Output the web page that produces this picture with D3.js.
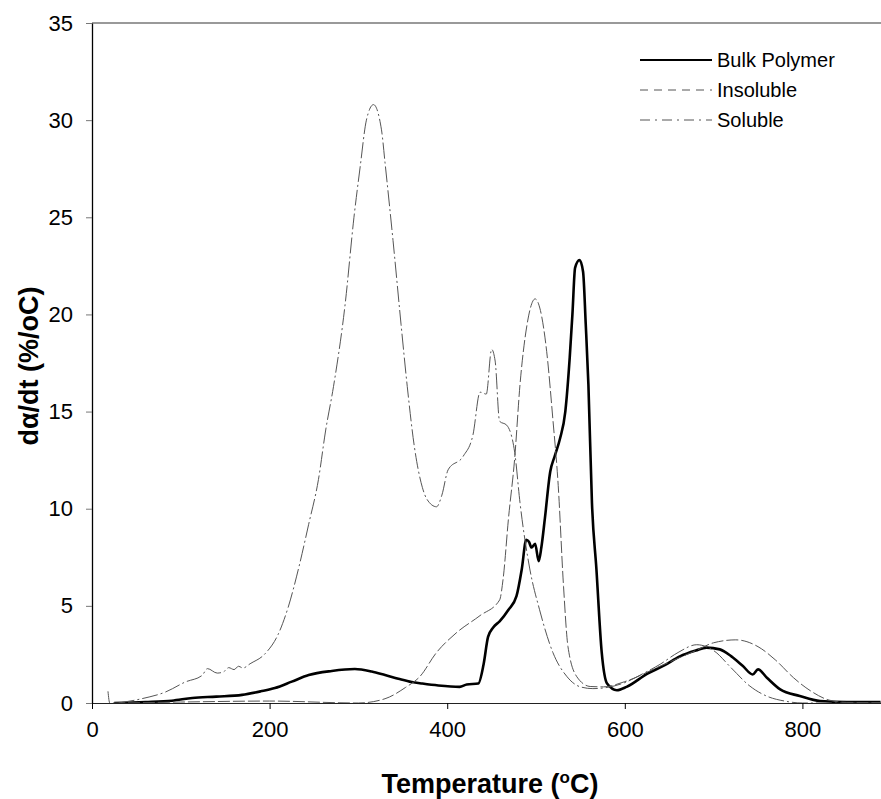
<!DOCTYPE html>
<html>
<head>
<meta charset="utf-8">
<script src="https://cdn.jsdelivr.net/npm/d3@7"></script>
<style>
  body { margin: 0; background: #fff; }
  svg text { font-family: "Liberation Sans", Arial, sans-serif; fill: #000; }
</style>
</head>
<body>
<div id="chart"></div>
<script>
// temperature (C), dα/dt (%/C)
const bulkPolymer = [[25,0],[60,0.05],[90,0.12],[113,0.26],[140,0.33],[169,0.42],[190,0.6],[206,0.77],[225,1.1],[244,1.44],[270,1.65],[296,1.75],[315,1.62],[330,1.44],[345,1.25],[360,1.08],[372,1.0],[390,0.9],[414,0.83],[422,0.95],[435,1.0],[441,2.0],[446,3.4],[452,3.9],[459,4.2],[469,4.8],[478,5.5],[484,6.9],[489,8.4],[492,8.3],[495,8.0],[499,8.2],[503,7.3],[506,8.0],[510,9.5],[516,11.9],[521,12.7],[527,13.6],[533,15],[538,17.8],[541,20],[544,22.4],[549,22.8],[553,22.2],[556,19.5],[559,16.4],[563,10.3],[568,6.9],[574,2.6],[580,1.0],[591,0.66],[602,0.83],[625,1.5],[645,1.95],[662,2.4],[680,2.7],[692,2.85],[707,2.76],[720,2.4],[733,1.9],[744,1.47],[750,1.73],[760,1.3],[775,0.7],[797,0.36],[820,0.1],[850,0.05],[888,0.05]];

const insoluble = [[18,0.6],[20,0],[100,0.05],[200,0.1],[300,0],[330,0.22],[353,0.8],[369,1.35],[388,2.6],[410,3.6],[437,4.5],[459,5.3],[463,6.4],[469,9.5],[476,12.6],[482,16.4],[490,19.5],[499,20.8],[505,20.2],[512,18.1],[519,14.6],[525,11.2],[531,6.0],[536,2.9],[546,1.35],[561,0.85],[576,0.83],[600,1.1],[640,1.9],[680,2.7],[700,3.1],[725,3.25],[750,2.9],[770,2.2],[790,1.3],[810,0.6],[830,0.15],[850,0.03],[888,0.02]];

const soluble = [[30,0],[56,0.22],[83,0.57],[105,1.08],[124,1.42],[130,1.77],[141,1.54],[148,1.6],[154,1.82],[160,1.72],[165,1.89],[170,1.8],[178,2.02],[195,2.54],[210,3.57],[221,4.94],[233,7.0],[244,9.2],[255,11.5],[263,14.0],[272,16.3],[285,20.5],[295,25],[302,27.6],[309,30.0],[317,30.8],[326,29.5],[330,27.8],[339,23.8],[348,19.5],[355,16.3],[363,13.2],[372,11.1],[377,10.5],[388,10.1],[394,10.7],[401,12.0],[418,12.7],[429,13.8],[437,16.0],[444,15.9],[450,18.2],[454,17.6],[459,14.5],[467,14.3],[476,12.9],[482,10.3],[493,6.9],[504,4.8],[519,2.6],[535,1.35],[550,0.83],[564,0.74],[580,0.8],[600,1.05],[620,1.5],[640,2.0],[660,2.6],[681,3.0],[700,2.7],[720,1.8],[740,0.9],[760,0.35],[780,0.1],[800,0],[888,0]];

const xTicks = [0, 200, 400, 600, 800];
const yTicks = [0, 5, 10, 15, 20, 25, 30, 35];
const seriesNames = ["Bulk Polymer", "Insoluble", "Soluble"];

const width = 881, height = 799,
  margin = ({ top: 23, right: 0, bottom: 96, left: 92 });

const svg = d3.select("#chart")
  .append("svg")
  .attr("width", width)
  .attr("height", height);

let x = d3.scaleLinear([0, 888.5], [margin.left, width - margin.right]);
let y = d3.scaleLinear([0, 35], [height - margin.bottom, margin.top]);

svg.append("clipPath").attr("id", "plot")
  .append("rect")
  .attr("x", margin.left).attr("y", margin.top)
  .attr("width", width - margin.left - margin.right)
  .attr("height", height - margin.top - margin.bottom);

// top border (grey)
svg.append("line")
  .attr("x1", margin.left).attr("x2", width)
  .attr("y1", y(35)).attr("y2", y(35))
  .attr("stroke", "#777").attr("stroke-width", 1.5);

// axes
const xAxis = svg.append("g")
  .attr("transform", `translate(0,${y(0)})`)
  .call(d3.axisBottom(x).tickValues(xTicks).tickSize(6).tickPadding(12).tickSizeOuter(0));
xAxis.select(".domain").attr("stroke", "#222");
xAxis.selectAll("text").attr("font-size", 22);

const yAxis = svg.append("g")
  .attr("transform", `translate(${margin.left},0)`)
  .call(d3.axisLeft(y).tickValues(yTicks).tickSize(6).tickPadding(13).tickSizeOuter(0));
yAxis.select(".domain").attr("stroke", "#000").attr("stroke-width", 1.3);
yAxis.selectAll(".tick line").attr("stroke", "#777");
yAxis.selectAll("text").attr("font-size", 22);

// axis titles
const xt = svg.append("text")
  .attr("x", 490).attr("y", 793)
  .attr("text-anchor", "middle")
  .attr("font-size", 27).attr("font-weight", "bold");
xt.append("tspan").text("Temperature (");
xt.append("tspan").attr("font-size", 17).attr("dy", -10).text("o");
xt.append("tspan").attr("dy", 10).text("C)");

svg.append("text")
  .attr("transform", "translate(38,366) rotate(-90)")
  .attr("text-anchor", "middle")
  .attr("font-size", 27).attr("font-weight", "bold")
  .text("dα/dt (%/oC)");

// curves
const line = d3.line()
  .x(d => x(d[0]))
  .y(d => y(d[1]))
  .curve(d3.curveMonotoneX);

const styles = [
  { data: bulkPolymer, stroke: "#000", w: 2.6, dash: null },
  { data: insoluble, stroke: "#555", w: 1, dash: "12,3" },
  { data: soluble, stroke: "#555", w: 1, dash: "16,3,2,3" }
];

const g = svg.append("g").attr("clip-path", "url(#plot)");
g.selectAll("path")
  .data(styles)
  .join("path")
  .attr("d", d => line(d.data))
  .attr("fill", "none")
  .attr("stroke", d => d.stroke)
  .attr("stroke-width", d => d.w)
  .attr("stroke-dasharray", d => d.dash)
  .attr("stroke-linejoin", "round");

// legend
let legendGroup = svg.selectAll(".legend-group")
  .data(seriesNames)
  .join("g")
  .attr("class", "legend-group")
  .attr("transform", (d, i) => `translate(0,${60 + i * 30})`);

legendGroup.append("line")
  .attr("x1", 640).attr("x2", 712)
  .attr("stroke", (d, i) => styles[i].stroke)
  .attr("stroke-width", (d, i) => i === 0 ? 2 : 1)
  .attr("stroke-dasharray", (d, i) => i === 0 ? null : (i === 1 ? "8,6" : "10,5,2,5"));

legendGroup.append("text")
  .attr("x", 717).attr("y", 7)
  .attr("font-size", 20)
  .text(d => d);
</script>
</body>
</html>
